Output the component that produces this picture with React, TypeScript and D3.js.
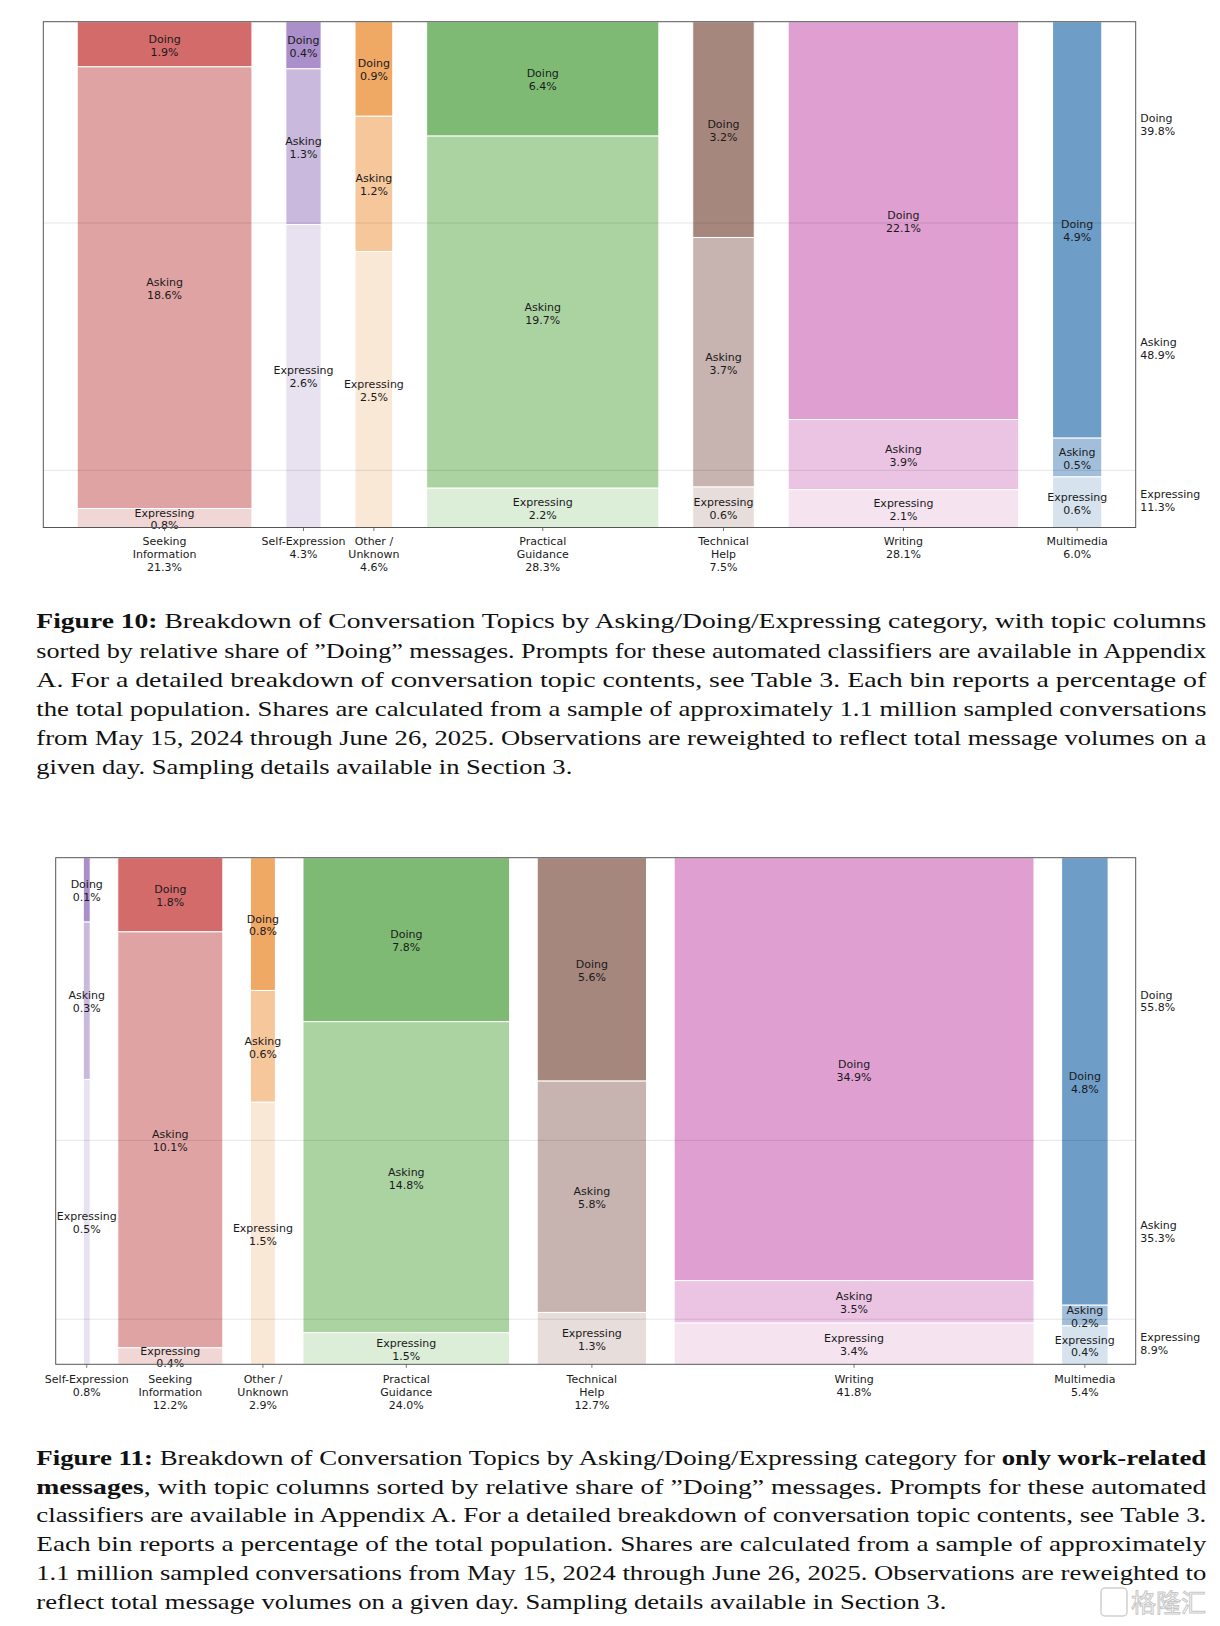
import * as d3 from 'd3';

// Figure 10: all messages, columns sorted by relative share of "Doing"
const fig10Topics = ['Seeking\nInformation', 'Self-Expression', 'Other /\nUnknown', 'Practical\nGuidance', 'Technical\nHelp', 'Writing', 'Multimedia'];
const fig10Totals = [21.3, 4.3, 4.6, 28.3, 7.5, 28.1, 6.0];
const fig10Doing = [1.9, 0.4, 0.86, 6.4, 3.2, 22.1, 4.94];
const fig10Asking = [18.6, 1.32, 1.23, 19.7, 3.7, 3.9, 0.46];
const fig10Expressing = [0.8, 2.57, 2.51, 2.2, 0.6, 2.1, 0.6];
const fig10Overall = [39.8, 48.9, 11.3];

// Figure 11: work-related messages only
const fig11Topics = ['Self-Expression', 'Seeking\nInformation', 'Other /\nUnknown', 'Practical\nGuidance', 'Technical\nHelp', 'Writing', 'Multimedia'];
const fig11Totals = [0.8, 12.2, 2.9, 24.0, 12.7, 41.8, 5.4];
const fig11Doing = [0.103, 1.8, 0.76, 7.8, 5.6, 34.9, 4.77];
const fig11Asking = [0.252, 10.1, 0.64, 14.8, 5.8, 3.5, 0.22];
const fig11Expressing = [0.456, 0.4, 1.5, 1.5, 1.3, 3.4, 0.41];
const fig11Overall = [55.8, 35.3, 8.9];

const categories = ['Doing', 'Asking', 'Expressing'];

// dark / mid / light shade per topic (Doing, Asking, Expressing)
const palette: Record<string, string[]> = {
  'Seeking Information': ['#d46b6b', '#e0a3a3', '#f1d6d6'],
  'Self-Expression': ['#ab8fcb', '#c9b9dd', '#e8e2f0'],
  'Other / Unknown': ['#f0a865', '#f6c79b', '#fae8d6'],
  'Practical Guidance': ['#7fba74', '#abd3a2', '#dcedd8'],
  'Technical Help': ['#a6877e', '#c7b3af', '#e7ddda'],
  Writing: ['#dfa0d1', '#ebc4e3', '#f5e3f0'],
  Multimedia: ['#6e9dc7', '#a1bedb', '#d6e3ef'],
};

const fig10Caption = [
  '**Figure 10:** Breakdown of Conversation Topics by Asking/Doing/Expressing category, with topic columns',
  'sorted by relative share of \u201dDoing\u201d messages. Prompts for these automated classifiers are available in Appendix',
  'A. For a detailed breakdown of conversation topic contents, see Table 3. Each bin reports a percentage of',
  'the total population. Shares are calculated from a sample of approximately 1.1 million sampled conversations',
  'from May 15, 2024 through June 26, 2025. Observations are reweighted to reflect total message volumes on a',
  'given day. Sampling details available in Section 3.',
];
const fig11Caption = [
  '**Figure 11:** Breakdown of Conversation Topics by Asking/Doing/Expressing category for **only work-related**',
  '**messages**, with topic columns sorted by relative share of \u201dDoing\u201d messages. Prompts for these automated',
  'classifiers are available in Appendix A. For a detailed breakdown of conversation topic contents, see Table 3.',
  'Each bin reports a percentage of the total population. Shares are calculated from a sample of approximately',
  '1.1 million sampled conversations from May 15, 2024 through June 26, 2025. Observations are reweighted to',
  'reflect total message volumes on a given day. Sampling details available in Section 3.',
];

const SANS = "'DejaVu Sans', sans-serif";
const SERIF = "'Liberation Serif', 'DejaVu Serif', serif";
const FONT_SIZE = 11;
const LINE = 12.9;

type MosaicProps = {
  left: number;
  top: number;
  right: number;
  bottom: number;
  gap: number;
  topics: string[];
  totals: number[];
  doing: number[];
  asking: number[];
  expressing: number[];
  overall: number[];
  tickOffset: number;
};

const Mosaic = ({ left, top, right, bottom, gap, topics, totals, doing, asking, expressing, overall, tickOffset }: MosaicProps) => {
  const n = topics.length;
  const sumTotals = d3.sum(totals);
  // gap is given in pixels, convert to data units
  const gapUnits = (gap * sumTotals) / (right - left - (n + 1) * gap);
  const xScale = d3
    .scaleLinear()
    .domain([0, sumTotals + (n + 1) * gapUnits])
    .range([left, right]);
  const yScale = d3.scaleLinear().domain([0, 1]).range([top, bottom]);

  const starts = totals.map((_, i) => d3.sum(totals.slice(0, i)) + (i + 1) * gapUnits);
  const overallSum = d3.sum(overall);
  const overallCum = [0, ...Array.from(d3.cumsum(overall))].map((v) => v / overallSum);

  const columns = topics.map((topic, i) => {
    const vals = [doing[i], asking[i], expressing[i]];
    const s = d3.sum(vals);
    const cum = [0, ...Array.from(d3.cumsum(vals))].map((v) => v / s);
    const x0 = xScale(starts[i]);
    const x1 = xScale(starts[i] + totals[i]);
    const colors = palette[topic.replace('\n', ' ')];
    return { topic, i, vals, cum, x0, x1, cx: (x0 + x1) / 2, colors };
  });

  return (
    <g>
      {columns.map((c) =>
        c.vals.map((v, k) => (
          <rect
            key={`${c.i}-${k}`}
            x={c.x0}
            y={yScale(c.cum[k])}
            width={c.x1 - c.x0}
            height={yScale(c.cum[k + 1]) - yScale(c.cum[k])}
            fill={c.colors[k]}
            stroke="#fff"
            strokeWidth={1}
          />
        ))
      )}
      {/* overall category boundaries */}
      {[1, 2].map((k) => (
        <line
          key={k}
          x1={left}
          x2={right}
          y1={yScale(overallCum[k])}
          y2={yScale(overallCum[k])}
          stroke="#000"
          strokeOpacity={0.1}
          strokeWidth={1}
        />
      ))}
      {columns.map((c) =>
        c.vals.map((v, k) => {
          const cy = (yScale(c.cum[k]) + yScale(c.cum[k + 1])) / 2;
          return (
            <text key={`l${c.i}-${k}`} x={c.cx} textAnchor="middle" fontFamily={SANS} fontSize={FONT_SIZE} fill="#1a1a1a">
              <tspan x={c.cx} y={cy - 1.5}>{categories[k]}</tspan>
              <tspan x={c.cx} y={cy - 1.5 + LINE}>{`${v.toFixed(1)}%`}</tspan>
            </text>
          );
        })
      )}
      {/* right-hand overall labels */}
      {overall.map((v, k) => {
        const cy = (yScale(overallCum[k]) + yScale(overallCum[k + 1])) / 2;
        return (
          <text key={`o${k}`} fontFamily={SANS} fontSize={FONT_SIZE} fill="#1a1a1a">
            <tspan x={right + 4.5} y={cy - 0.5}>{categories[k]}</tspan>
            <tspan x={right + 4.5} y={cy - 0.5 + LINE}>{`${v.toFixed(1)}%`}</tspan>
          </text>
        );
      })}
      <rect x={left} y={top} width={right - left} height={bottom - top} fill="none" stroke="#555" strokeWidth={1} />
      {/* x ticks */}
      {columns.map((c) => {
        const lines = [...c.topic.split('\n'), `${totals[c.i].toFixed(1)}%`];
        return (
          <g key={`t${c.i}`}>
            <line x1={c.cx} x2={c.cx} y1={bottom} y2={bottom + 3.5} stroke="#555" strokeWidth={0.8} />
            <text textAnchor="middle" fontFamily={SANS} fontSize={FONT_SIZE} fill="#1a1a1a">
              {lines.map((l, j) => (
                <tspan key={j} x={c.cx} y={bottom + tickOffset + j * LINE}>
                  {l}
                </tspan>
              ))}
            </text>
          </g>
        );
      })}
    </g>
  );
};

type CaptionProps = { lines: string[]; x: number; y: number; width: number; lastWidth: number; step: number };

const Caption = ({ lines, x, y, width, lastWidth, step }: CaptionProps) => (
  <g fontFamily={SERIF} fontSize={21} fill="#111">
    {lines.map((line, i) => {
      const parts = line.split('**');
      return (
        <text
          key={i}
          x={x}
          y={y + i * step}
          textLength={i === lines.length - 1 ? lastWidth : width}
          lengthAdjust="spacingAndGlyphs"
        >
          {parts.map((p, j) => (
            <tspan key={j} fontWeight={j % 2 === 1 ? 'bold' : 'normal'}>
              {p}
            </tspan>
          ))}
        </text>
      );
    })}
  </g>
);

export default function App() {
  return (
    <svg width={1220} height={1626} style={{ position: 'absolute', left: 0, top: 0 }}>
      <rect width={1220} height={1626} fill="#fff" />
      <Mosaic
        left={43.3}
        top={21.7}
        right={1135.7}
        bottom={527.5}
        gap={33.9}
        topics={fig10Topics}
        totals={fig10Totals}
        doing={fig10Doing}
        asking={fig10Asking}
        expressing={fig10Expressing}
        overall={fig10Overall}
        tickOffset={17.5}
      />
      <Caption lines={fig10Caption} x={36.3} y={628.3} width={1170} lastWidth={536} step={29.2} />
      <Mosaic
        left={55.7}
        top={857.7}
        right={1135.7}
        bottom={1364.3}
        gap={27.6}
        topics={fig11Topics}
        totals={fig11Totals}
        doing={fig11Doing}
        asking={fig11Asking}
        expressing={fig11Expressing}
        overall={fig11Overall}
        tickOffset={18.5}
      />
      <Caption lines={fig11Caption} x={36.3} y={1465} width={1170} lastWidth={910} step={28.7} />
      {/* watermark */}
      <g opacity={0.55}>
        <rect x={1101} y={1588} width={26} height={28} rx={4} fill="none" stroke="#aaa" strokeWidth={1.5} />
        <text x={1131} y={1612} fontFamily="'Noto Sans CJK SC', sans-serif" fontSize={25} fill="#fff" stroke="#999" strokeWidth={1}>
          格隆汇
        </text>
      </g>
    </svg>
  );
}
